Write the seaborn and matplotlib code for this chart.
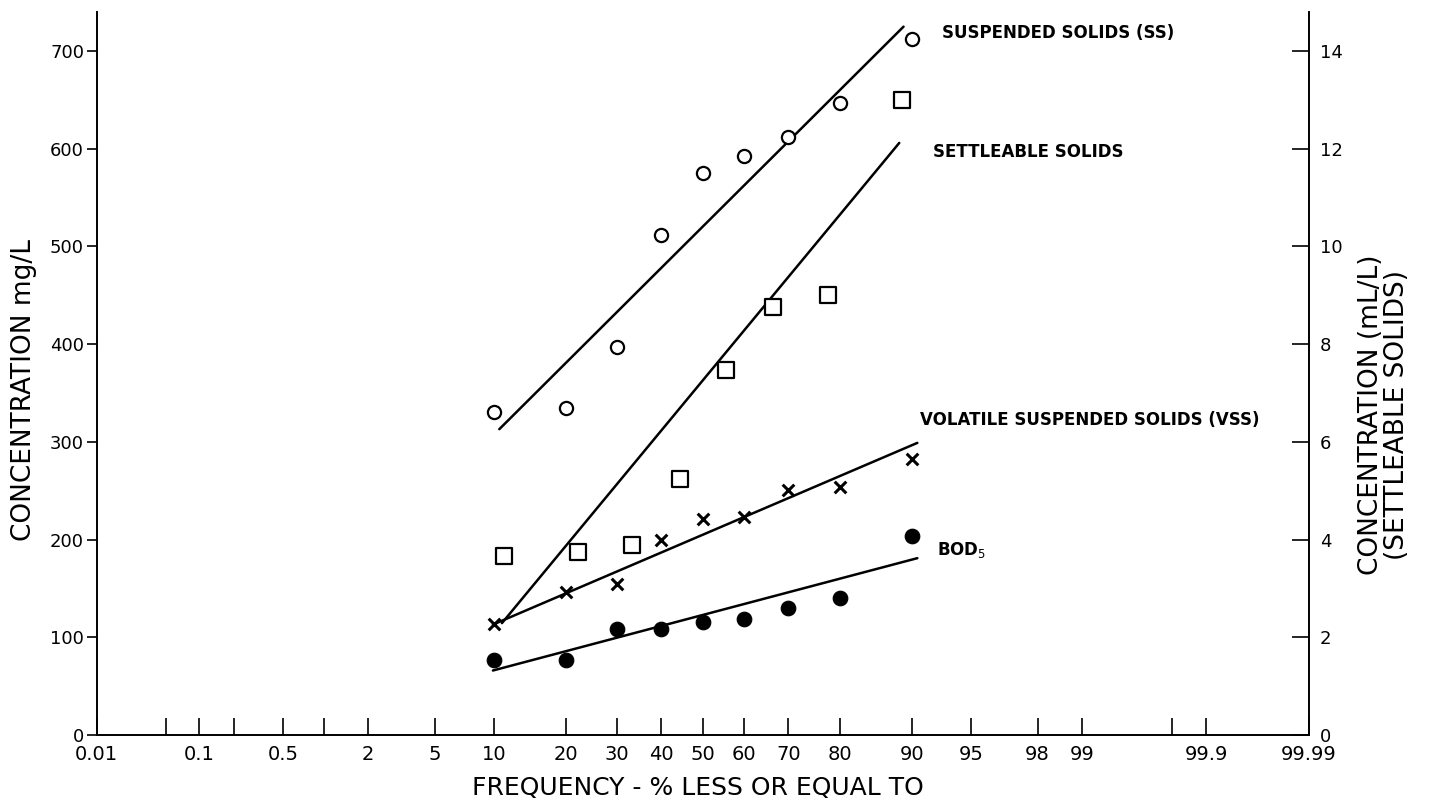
import numpy as np
import seaborn as sns
import matplotlib
matplotlib.use("Agg")
import matplotlib.pyplot as plt
from matplotlib import font_manager
from statistics import NormalDist

# frequency positions (% less or equal to)
pct9 = [10, 20, 30, 40, 50, 60, 70, 80, 90]
settle_pct = [11.1, 22.2, 33.3, 44.4, 55.6, 66.7, 77.8, 88.9]

# observed concentrations, mg/L
ss_values = [331, 335, 397, 512, 575, 593, 612, 647, 712]
vss_values = [114, 146, 155, 200, 221, 223, 251, 254, 283]
bod_values = [77, 77, 108, 109, 116, 119, 130, 140, 204]
# settleable solids, mL/L (right axis)
settle_values = [3.66, 3.75, 3.89, 5.25, 7.47, 8.77, 9.0, 13.0]

# fitted lines (end points)
ss_fit_pct = [10.6, 89.1]
ss_fit = [313, 725]
settle_fit_pct = [10.9, 88.6]
settle_fit = [2.29, 12.12]
vss_fit_pct = [9.9, 90.6]
vss_fit = [113, 299]
bod_fit_pct = [9.9, 90.6]
bod_fit = [66, 181]

tick_pct = [0.01, 0.05, 0.1, 0.2, 0.5, 1, 2, 5, 10, 20, 30, 40, 50, 60, 70,
            80, 90, 95, 98, 99, 99.8, 99.9, 99.99]
tick_txt = ["0.01", "", "0.1", "", "0.5", "", "2", "5", "10", "20", "30", "40",
            "50", "60", "70", "80", "90", "95", "98", "99", "", "99.9", "99.99"]

_nd = NormalDist()


def prob_fwd(p):
    p = np.asarray(p, dtype=float)
    q = np.clip(p, 1e-4, 100 - 1e-4) / 100.0
    out = np.array([_nd.inv_cdf(v) if np.isfinite(v) else np.nan for v in q.ravel()])
    return out.reshape(p.shape)


def prob_inv(z):
    z = np.asarray(z, dtype=float)
    out = np.array([_nd.cdf(v) * 100 if not np.isnan(v) else np.nan for v in z.ravel()])
    return out.reshape(z.shape)


sns.set_style("ticks")
names = {f.name for f in font_manager.fontManager.ttflist}
narrow = "Liberation Sans Narrow" if "Liberation Sans Narrow" in names else "DejaVu Sans"
plt.rcParams["font.family"] = ["DejaVu Sans"]
plt.rcParams.update({"text.color": "black", "xtick.color": "black",
                     "ytick.color": "black", "axes.edgecolor": "black",
                     "axes.labelcolor": "black"})

W, H = 1429, 808
fig = plt.figure(figsize=(W / 100, H / 100), dpi=100)
x0, x1, yb, yt = 96.5, 1309, 735, 12
ax = fig.add_axes([x0 / W, 1 - yb / H, (x1 - x0) / W, (yb - yt) / H])
ax.set_xscale("function", functions=(prob_fwd, prob_inv))
ax.set_xlim(0.01, 99.99)
ax.set_ylim(0, 740)

ax2 = ax.twinx()
ax2.set_ylim(0, 14.8)

lw = 1.8
sns.lineplot(x=ss_fit_pct, y=ss_fit, ax=ax, color="black", lw=lw)
sns.lineplot(x=vss_fit_pct, y=vss_fit, ax=ax, color="black", lw=lw)
sns.lineplot(x=bod_fit_pct, y=bod_fit, ax=ax, color="black", lw=lw)
sns.lineplot(x=settle_fit_pct, y=settle_fit, ax=ax2, color="black", lw=lw)

sns.scatterplot(x=pct9, y=ss_values, ax=ax, marker="o", s=90,
                facecolor="white", edgecolor="black", linewidth=1.6, zorder=3)
sns.scatterplot(x=pct9, y=vss_values, ax=ax, marker="x", s=70,
                color="black", linewidth=2.2, zorder=3)
sns.scatterplot(x=pct9, y=bod_values, ax=ax, marker="o", s=110,
                color="black", edgecolor="black", zorder=3)
sns.scatterplot(x=settle_pct, y=settle_values, ax=ax2, marker="s", s=125,
                facecolor="white", edgecolor="black", linewidth=1.6, zorder=3)

for a in (ax, ax2):
    a.set_xlabel("")
    a.set_ylabel("")
    a.spines["top"].set_visible(False)
ax.spines["right"].set_visible(False)
ax2.spines["left"].set_visible(False)
ax2.spines["bottom"].set_visible(False)
for s in ("left", "bottom"):
    ax.spines[s].set_linewidth(1.4)
ax2.spines["right"].set_linewidth(1.4)

ax.set_xticks(tick_pct)
ax.set_xticklabels(tick_txt, fontfamily=narrow, fontsize=14)
ax.tick_params(axis="x", direction="in", length=12, width=1.2, pad=7)
ax.set_yticks(range(0, 701, 100))
ax.tick_params(axis="y", direction="out", length=7, width=1.2, pad=2, labelsize=13)
ax2.set_yticks(range(0, 15, 2))
ax2.tick_params(axis="y", direction="in", length=12, width=1.2, pad=8, labelsize=13)

fig.text(698 / W, 1 - 788 / H, "FREQUENCY - % LESS OR EQUAL TO", family=narrow,
         fontsize=18, ha="center", va="center")
fig.text(24 / W, 1 - 390 / H, "CONCENTRATION mg/L", family=narrow,
         fontsize=19, rotation=90, ha="center", va="center")
fig.text(1384 / W, 1 - 415 / H, "CONCENTRATION (mL/L)\n(SETTLEABLE SOLIDS)",
         family=narrow, fontsize=19, rotation=90, ha="center", va="center",
         multialignment="center", linespacing=1.0)

lab = dict(family="DejaVu Sans", fontweight="bold", fontsize=12, va="center", ha="left")
fig.text(942 / W, 1 - 33 / H, "SUSPENDED SOLIDS (SS)", **lab)
fig.text(933 / W, 1 - 152 / H, "SETTLEABLE SOLIDS", **lab)
fig.text(920 / W, 1 - 420 / H, "VOLATILE SUSPENDED SOLIDS (VSS)", **lab)
fig.text(937 / W, 1 - 550 / H, "BOD$_5$", **lab)

fig.savefig("out.png", dpi=100)
